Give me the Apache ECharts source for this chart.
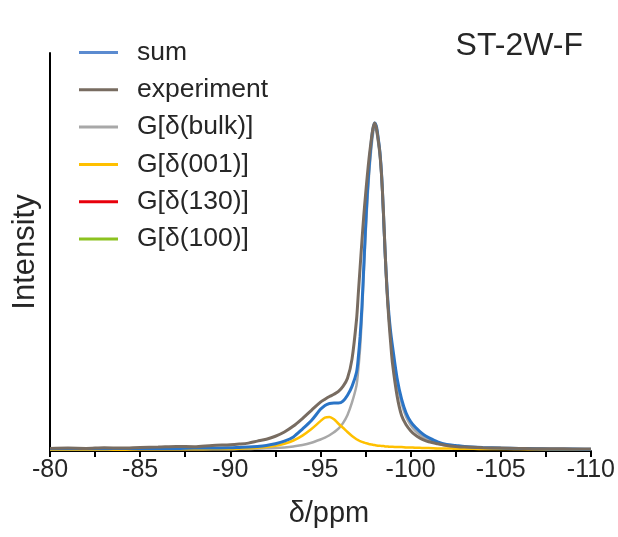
<!DOCTYPE html>
<html>
<head>
<meta charset="utf-8">
<script src="https://cdn.jsdelivr.net/npm/echarts@6/dist/echarts.min.js"></script>
<style>
html,body{margin:0;padding:0;background:#ffffff;}
#c{width:618px;height:537px;}
</style>
</head>
<body>
<div id="c"></div>
<script>
// chemical shift (ppm) sample positions
var ppm = [-80,-81,-82,-83,-84,-85,-86,-87,-88,-89,-90,
  -90.5,-91,-91.5,-92,-92.5,-93,-93.5,-94,-94.5,-95,
  -95.25,-95.5,-95.75,-96,-96.25,-96.5,-96.75,-97,
  -97.1,-97.2,-97.3,-97.4,-97.5,-97.6,-97.7,-97.8,-97.9,-98,-98.1,-98.2,-98.3,-98.4,-98.5,-98.6,-98.7,-98.8,-98.9,
  -99,-99.25,-99.5,-99.75,-100,-100.25,-100.5,-100.75,-101,-101.5,-102,-102.5,-103,
  -104,-105,-106,-107,-108,-109,-110];

var experiment = [0.008,0.009,0.008,0.010,0.009,0.011,0.012,0.014,0.013,0.017,0.019,
  0.021,0.024,0.030,0.036,0.045,0.058,0.076,0.099,0.124,0.149,
  0.158,0.166,0.173,0.182,0.197,0.222,0.28,0.40,
  0.48,0.56,0.64,0.715,0.78,0.84,0.895,0.94,0.98,1.0,0.985,0.95,0.905,0.83,0.72,0.59,0.48,0.395,0.325,
  0.265,0.168,0.108,0.080,0.062,0.049,0.040,0.033,0.028,0.022,0.017,0.014,0.012,
  0.010,0.009,0.008,0.007,0.007,0.006,0.006];

var sum = [0.007,0.007,0.007,0.007,0.008,0.008,0.008,0.008,0.009,0.009,0.010,
  0.011,0.012,0.014,0.017,0.022,0.030,0.043,0.067,0.093,0.127,
  0.139,0.145,0.146,0.146,0.152,0.170,0.197,0.24,
  0.285,0.35,0.44,0.56,0.68,0.785,0.865,0.93,0.978,1.0,0.99,0.955,0.91,0.835,0.715,0.59,0.49,0.415,0.36,
  0.318,0.222,0.158,0.116,0.090,0.073,0.060,0.049,0.041,0.028,0.020,0.017,0.014,
  0.011,0.009,0.008,0.007,0.006,0.006,0.005];

var bulk = [0.005,0.005,0.005,0.005,0.005,0.005,0.005,0.005,0.005,0.005,0.005,
  0.006,0.006,0.007,0.008,0.009,0.011,0.014,0.018,0.025,0.035,
  0.041,0.048,0.057,0.068,0.085,0.110,0.148,0.20,
  0.25,0.315,0.415,0.535,0.655,0.76,0.845,0.91,0.96,0.985,0.975,0.94,0.895,0.82,0.70,0.575,0.475,0.40,0.345,
  0.303,0.208,0.146,0.104,0.079,0.062,0.050,0.041,0.034,0.023,0.016,0.012,0.010,
  0.008,0.007,0.006,0.006,0.005,0.005,0.005];

var g001 = [0.004,0.004,0.004,0.004,0.004,0.005,0.005,0.005,0.005,0.006,0.006,
  0.007,0.008,0.010,0.012,0.016,0.022,0.032,0.047,0.067,0.091,
  0.102,0.104,0.097,0.083,0.071,0.058,0.046,0.036,
  0.033,0.030,0.028,0.026,0.024,0.023,0.021,0.020,0.019,0.018,0.017,0.016,0.016,0.015,0.015,0.014,0.014,0.013,0.013,
  0.013,0.012,0.012,0.011,0.011,0.010,0.010,0.009,0.009,0.008,0.008,0.007,0.007,
  0.006,0.006,0.006,0.005,0.005,0.005,0.005];

var g130 = [];
var g100 = [];

var xTicks = [-80,-85,-90,-95,-100,-105,-110];
var legendNames = ['sum','experiment','G[δ(bulk)]','G[δ(001)]','G[δ(130)]','G[δ(100)]'];

function pairs(ys){ return ys.map(function(y,i){ return [ppm[i], y]; }); }

var FONT = "'Liberation Sans', Arial, sans-serif";
var TXT = '#262626';
var chart = echarts.init(document.getElementById('c'), null, {renderer:'canvas'});

function lineSeries(name, data, color, width, z){
  return {name:name, type:'line', data:data, smooth:0.3, showSymbol:false, symbol:'none',
    lineStyle:{color:color, width:width}, itemStyle:{color:color}, z:z, animation:false};
}

var legendData = legendNames.map(function(n){
  return n === 'sum' ? {name:n, itemStyle:{color:'#5b8bd0'}} : n;
});

chart.setOption({
  backgroundColor:'#ffffff',
  animation:false,
  title:{text:'ST-2W-F', right:30, top:25,
    textStyle:{fontFamily:FONT, fontSize:32, fontWeight:'normal', color:TXT}},
  legend:{orient:'vertical', left:79, top:39, padding:0, icon:'rect', itemWidth:39, itemHeight:3, itemGap:10.3,
    data:legendData,
    textStyle:{fontFamily:FONT, fontSize:26.5, lineHeight:27, color:TXT, padding:[0,0,0,14]}},
  grid:{left:50, right:26, top:53, bottom:86},
  xAxis:{type:'value', min:-110, max:-80, interval:2.5, inverse:true,
    name:'δ/ppm', nameLocation:'middle', nameGap:48,
    nameTextStyle:{fontFamily:FONT, fontSize:29, color:TXT, padding:[0,0,0,17]},
    axisLine:{show:true, onZero:false, lineStyle:{color:'#000', width:2}},
    axisTick:{show:true, inside:false, length:6, lineStyle:{color:'#000', width:2}},
    axisLabel:{show:true, margin:7, fontFamily:FONT, fontSize:25, color:TXT,
      showMinLabel:true, showMaxLabel:true,
      formatter:function(v){ return xTicks.indexOf(v) >= 0 ? String(v) : ''; }},
    splitLine:{show:false}},
  yAxis:{type:'value', min:0, max:1.213,
    name:'Intensity', nameLocation:'middle', nameGap:9,
    nameTextStyle:{fontFamily:FONT, fontSize:31, color:TXT},
    axisLine:{show:true, lineStyle:{color:'#000', width:2}},
    axisTick:{show:false}, axisLabel:{show:false}, splitLine:{show:false}},
  series:[
    lineSeries('G[δ(bulk)]', pairs(bulk), '#a8a8a8', 2.5, 2),
    lineSeries('G[δ(001)]', pairs(g001), '#ffc000', 2.5, 3),
    lineSeries('G[δ(130)]', pairs(g130), '#e8000b', 2.5, 3),
    lineSeries('G[δ(100)]', pairs(g100), '#8cc21f', 2.5, 3),
    lineSeries('sum', pairs(sum), '#2a74c6', 3, 4),
    lineSeries('experiment', pairs(experiment), '#786c61', 3, 5)
  ]
});
</script>
</body>
</html>
